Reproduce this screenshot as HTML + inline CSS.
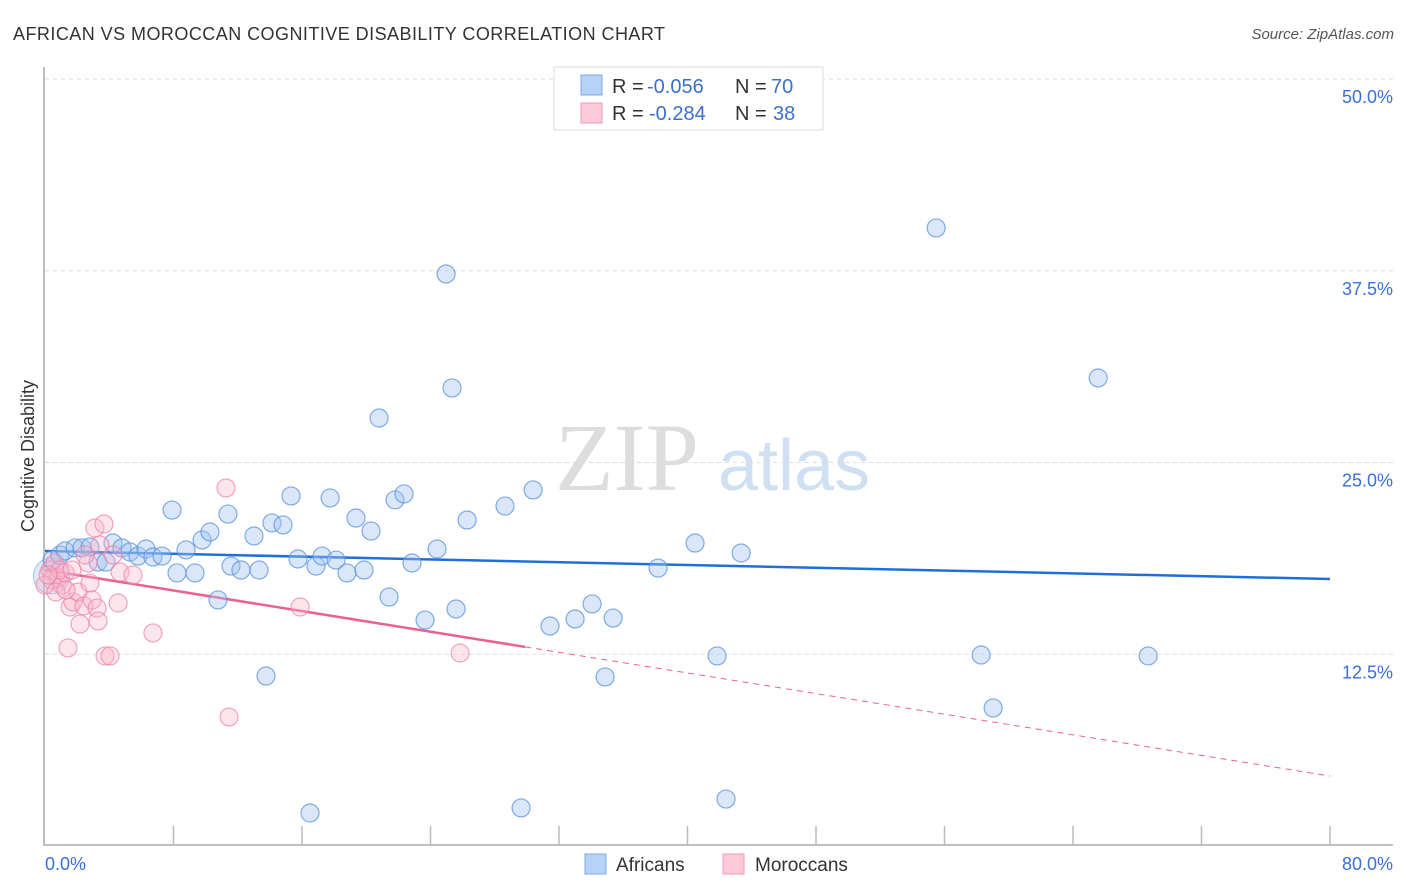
<!DOCTYPE html>
<html><head><meta charset="utf-8"><style>
body{margin:0;background:#fff;font-family:"Liberation Sans",sans-serif}
svg{display:block}
</style></head><body>
<svg id="chart" width="1406" height="892" xmlns="http://www.w3.org/2000/svg">
<text x="13" y="40" font-size="18" fill="#333" textLength="652">AFRICAN VS MOROCCAN COGNITIVE DISABILITY CORRELATION CHART</text>
<text x="1394" y="39" font-size="15" fill="#555" font-style="italic" text-anchor="end">Source: ZipAtlas.com</text>
<text x="34" y="456" font-size="18" fill="#333" text-anchor="middle" transform="rotate(-90 34 456)">Cognitive Disability</text>
<g><text x="555" y="490" font-size="96" fill="#ddd" font-family="Liberation Serif,serif">ZIP</text><text x="718" y="490" font-size="72" fill="#cfe0f3">atlas</text></g>
<g id="grid"></g><g id="axes"></g><g id="trend"></g><g id="pts"></g>
<g>
<rect x="554" y="67" width="269" height="63" fill="#fff" stroke="#ddd"/>
<rect x="581" y="75" width="21" height="20" fill="#b7d2f5" stroke="#7fa9e6"/>
<rect x="581" y="103" width="21" height="20" fill="#fbc9d8" stroke="#f29bb5"/>
<text x="612" y="93" font-size="20" fill="#333">R =</text><text x="647" y="93" font-size="20" fill="#3a70d0">-0.056</text>
<text x="735" y="93" font-size="20" fill="#333">N =</text><text x="771" y="93" font-size="20" fill="#3a70d0">70</text>
<text x="612" y="120" font-size="20" fill="#333">R =</text><text x="649" y="120" font-size="20" fill="#3a70d0">-0.284</text>
<text x="735" y="120" font-size="20" fill="#333">N =</text><text x="773" y="120" font-size="20" fill="#3a70d0">38</text>
</g>
<g>
<rect x="585" y="854" width="21" height="20" fill="#b7d2f5" stroke="#7fa9e6"/>
<text x="616" y="871" font-size="19" fill="#333">Africans</text>
<rect x="723" y="854" width="21" height="20" fill="#fbc9d8" stroke="#f29bb5"/>
<text x="755" y="871" font-size="19" fill="#333">Moroccans</text>
</g>
</svg>
<script>
const yTicks=[12.5,25,37.5,50];
const yTickLabels=["12.5%","25.0%","37.5%","50.0%"];
const xTickLabels=["0.0%","80.0%"];
const blueX=[0.44,0.93,1.25,1.87,2.30,2.80,3.30,3.80,4.23,4.79,5.29,5.79,6.29,6.72,7.29,7.91,8.22,8.78,9.34,9.78,10.27,10.77,11.39,11.58,12.20,13.01,13.33,13.76,14.13,14.82,15.32,15.75,16.50,16.87,17.25,17.75,18.12,18.80,19.36,19.86,20.30,20.80,21.42,21.79,22.35,22.85,23.66,24.41,24.97,25.34,25.59,26.28,28.64,29.64,30.39,31.44,33.0,34.06,34.87,35.37,38.17,40.47,41.84,42.40,43.34,55.48,58.28,59.03,65.57,68.68];
const blueY=[18.64,18.97,19.23,19.43,19.43,19.49,18.51,18.51,19.75,19.43,19.17,18.90,19.36,18.84,18.90,21.9,17.8,19.3,17.8,19.95,20.47,16.04,21.64,18.25,17.99,20.21,17.99,11.08,21.06,20.93,22.82,18.71,2.15,18.25,18.9,22.69,18.64,17.8,21.38,17.99,20.53,27.9,16.23,22.56,22.95,18.45,14.73,19.36,37.29,29.86,15.45,21.25,22.16,2.48,23.21,14.34,14.8,15.78,11.02,14.86,18.12,19.75,12.39,3.06,19.1,40.29,12.45,9.0,30.51,12.39];
const pinkX=[0.31,0.44,0.62,0.81,1.06,1.25,1.43,1.56,1.74,2.05,2.18,2.43,2.68,2.80,2.93,3.11,3.24,3.30,3.42,3.67,3.74,4.05,4.23,4.55,4.67,5.48,6.72,11.27,11.46,15.88,25.84,0,0.68,0.93,2.49,1.31,1.68,0.19];
const pinkY=[17.99,17.34,18.45,17.47,17.01,17.8,12.91,15.58,15.91,16.56,14.47,15.65,18.45,17.14,16.04,20.73,15.51,14.67,19.62,20.99,12.39,12.39,18.97,15.84,17.86,17.67,13.89,23.34,8.41,15.58,12.58,17.01,16.56,17.99,18.97,16.69,17.99,17.67];
const blueTrend=[19.23,-0.0228];
const pinkTrend=[18.0,-0.168];
const pinkSolidEnd=29.9;

const NS="http://www.w3.org/2000/svg";
const X0=45,X1=1330,Y0=846,Y50=79;
const sx=v=>X0+(X1-X0)*v/80;
const sy=v=>Y0-(Y0-Y50)*v/50;
function mk(tag,attrs,parent){const e=document.createElementNS(NS,tag);for(const k in attrs)e.setAttribute(k,attrs[k]);document.getElementById(parent).appendChild(e);return e;}
yTicks.forEach((t,i)=>{
 const g=mk('line',{x1:45,x2:1393,y1:sy(t),y2:sy(t),stroke:'#ddd','stroke-dasharray':'4,4'},'grid');
 
 
 const tx=mk('text',{x:1393,y:sy(t)+24,'font-size':18,fill:'#3a70d0','text-anchor':'end'},'grid');
 tx.textContent=yTickLabels[i];
 
 
});
const ax=mk('path',{d:`M44,67 V845 H1393`,stroke:'#aaa','stroke-width':1.5,fill:'none'},'axes');


for(let i=1;i<=10;i++){
 const t=mk('line',{x1:sx(i*8),x2:sx(i*8),y1:826,y2:845,stroke:'#bbb','stroke-width':1.5},'axes');
 
 
}
const xl0=mk('text',{x:45,y:870,'font-size':18,fill:'#3a70d0'},'axes');xl0.textContent=xTickLabels[0];


const xl1=mk('text',{x:1393,y:870,'font-size':18,fill:'#3a70d0','text-anchor':'end'},'axes');xl1.textContent=xTickLabels[1];



const big=mk('circle',{cx:sx(0.4),cy:sy(17.6),r:18,fill:'rgba(160,195,240,0.35)',stroke:'rgba(110,160,225,0.6)'},'pts');


blueX.forEach((x,i)=>{
 const c=mk('circle',{cx:sx(x),cy:sy(blueY[i]),r:9,fill:'rgba(160,195,240,0.4)',stroke:'rgba(90,145,220,0.75)','stroke-width':1.2},'pts');
 
 
});
pinkX.forEach((x,i)=>{
 const c=mk('circle',{cx:sx(x),cy:sy(pinkY[i]),r:9,fill:'rgba(248,180,200,0.35)',stroke:'rgba(235,130,165,0.7)','stroke-width':1.2},'pts');
 
 
});
const bl=mk('line',{x1:sx(0),y1:sy(blueTrend[0]),x2:sx(80),y2:sy(blueTrend[0]+blueTrend[1]*80),stroke:'#1f6fd8','stroke-width':2.5},'trend');


const pl=mk('line',{x1:sx(0),y1:sy(pinkTrend[0]),x2:sx(pinkSolidEnd),y2:sy(pinkTrend[0]+pinkTrend[1]*pinkSolidEnd),stroke:'#ea6190','stroke-width':2.5},'trend');


const pd=mk('line',{x1:sx(pinkSolidEnd),y1:sy(pinkTrend[0]+pinkTrend[1]*pinkSolidEnd),x2:sx(80),y2:sy(pinkTrend[0]+pinkTrend[1]*80),stroke:'#ea6190','stroke-width':1,'stroke-dasharray':'6,5'},'trend');


</script>
</body></html>
